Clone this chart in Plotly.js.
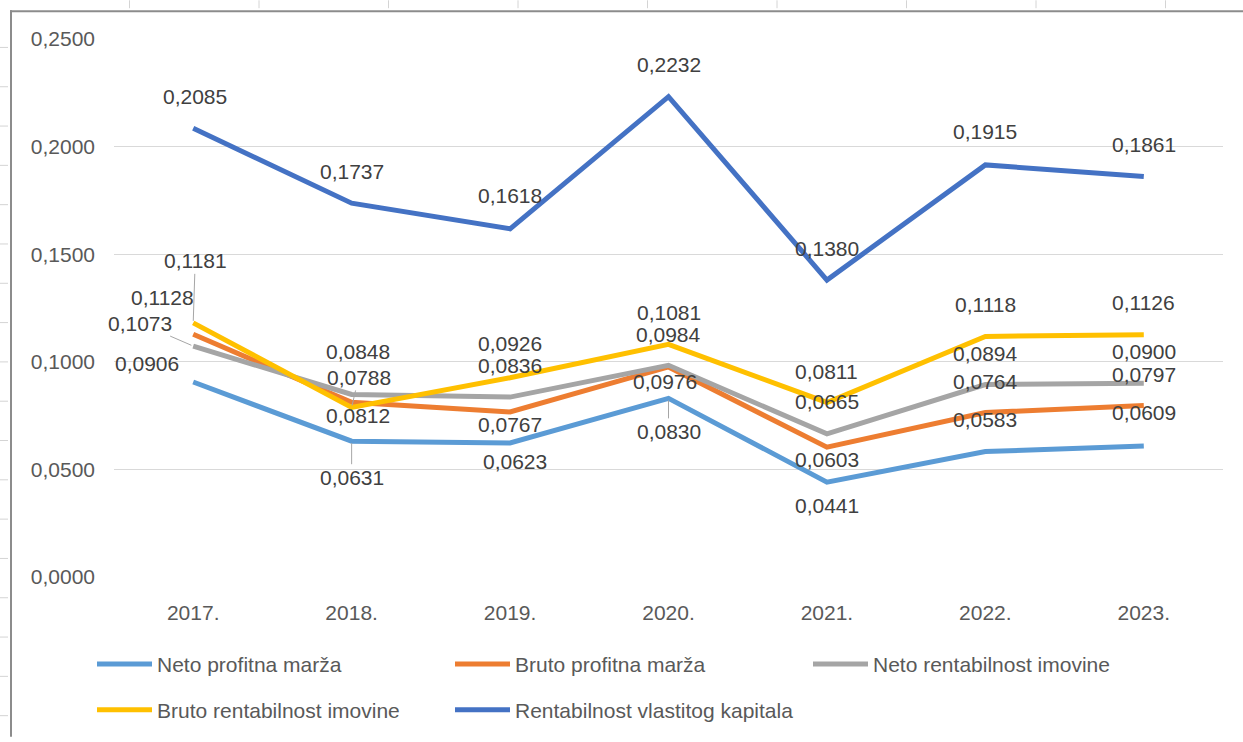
<!DOCTYPE html>
<html>
<head>
<meta charset="utf-8">
<script src="https://cdn.plot.ly/plotly-3.0.1.min.js"></script>
<style>html,body{margin:0;padding:0;background:#fff;}#chart{width:1243px;height:742px;}</style>
</head>
<body>
<div id="chart"></div>
<script>
// ---- data ----
const years = ['2017.', '2018.', '2019.', '2020.', '2021.', '2022.', '2023.'];
const netoProfitnaMarza = [0.0906, 0.0631, 0.0623, 0.0830, 0.0441, 0.0583, 0.0609];
const brutoProfitnaMarza = [0.1128, 0.0812, 0.0767, 0.0976, 0.0603, 0.0764, 0.0797];
const netoRentabilnostImovine = [0.1073, 0.0848, 0.0836, 0.0984, 0.0665, 0.0894, 0.0900];
const brutoRentabilnostImovine = [0.1181, 0.0788, 0.0926, 0.1081, 0.0811, 0.1118, 0.1126];
const rentabilnostKapitala = [0.2085, 0.1737, 0.1618, 0.2232, 0.1380, 0.1915, 0.1861];
const seriesNames = ['Neto profitna marža', 'Bruto profitna marža', 'Neto rentabilnost imovine',
                     'Bruto rentabilnost imovine', 'Rentabilnost vlastitog kapitala'];
const yTicks = [0, 0.05, 0.10, 0.15, 0.20, 0.25];

// ---- styling (not data) ----
const colors = ['#5B9BD5', '#ED7D31', '#A5A5A5', '#FFC000', '#4472C4'];
// data-label pixel offsets [dx, dy] (screen, down positive), as placed in the original
const labelOffsets = [
  [[-46,-19],[0,36],[5,19],[0,33],[0,23],[0,-32],[0,-33]],
  [[-31,-37],[6,13],[0,13],[-4,15],[0,12],[0,-31],[0,-31]],
  [[-53,-23],[6,-43],[0,-32],[0,-31],[0,-32],[0,-31],[0,-32]],
  [[2,-62],[7,-30],[0,-34],[0,-32],[0,-31],[0,-32],[0,-32]],
  [[2,-32],[0,-32],[0,-33],[0,-32],[0,-32],[0,-33],[0,-32]]
];
// labels that show a leader line: [series, point]
const leaders = [[3,0],[2,0],[0,1],[0,3],[3,1]];

const allSeries = [netoProfitnaMarza, brutoProfitnaMarza, netoRentabilnostImovine,
                   brutoRentabilnostImovine, rentabilnostKapitala];
const xIdx = years.map((_, i) => i);   // category positions on the x axis

const W = 1243, H = 742;
const M = {l: 114, r: 20, t: 39, b: 161};
const PW = W - M.l - M.r, PH = H - M.t - M.b;
const px2x = p => (p - M.l) / PW;
const px2y = p => (H - M.b - p) / PH;

const FONT = 'Liberation Sans, Arial, sans-serif';
const fmt = v => v.toFixed(4).replace('.', ',');

const traces = allSeries.map((vals, s) => ({
  type: 'scatter', mode: 'lines', x: xIdx, y: vals, name: seriesNames[s],
  line: {color: colors[s], width: 5},
  legend: s < 3 ? 'legend' : 'legend2',
  hoverinfo: 'skip'
}));

const annotations = [];
allSeries.forEach((vals, s) => {
  vals.forEach((v, i) => {
    const [dx, dy] = labelOffsets[s][i];
    const lead = leaders.some(([a, b]) => a === s && b === i);
    const a = {x: xIdx[i], y: v, xref: 'x', yref: 'y', text: fmt(v),
      font: {family: FONT, size: 21, color: '#404040'}};
    if (lead) {
      Object.assign(a, {showarrow: true, ax: dx, ay: dy, arrowhead: 0, arrowwidth: 1,
        arrowcolor: '#a6a6a6', standoff: 2});
    } else {
      Object.assign(a, {showarrow: false, xanchor: 'center', yanchor: 'middle',
        xshift: dx, yshift: -dy});
    }
    annotations.push(a);
  });
});

// sheet frame & spreadsheet grid marks around the chart object
const shapes = [];
shapes.push({type: 'line', xref: 'paper', yref: 'paper', x0: px2x(10), x1: px2x(1243),
  y0: px2y(11), y1: px2y(11), line: {color: '#8c8c8c', width: 2}});
shapes.push({type: 'line', xref: 'paper', yref: 'paper', x0: px2x(11), x1: px2x(11),
  y0: px2y(10), y1: px2y(742), line: {color: '#8c8c8c', width: 2}});
for (let k = 1; k <= 9; k++) {
  const xx = 129.5 * k;
  shapes.push({type: 'line', xref: 'paper', yref: 'paper', x0: px2x(xx), x1: px2x(xx),
    y0: px2y(0), y1: px2y(8), line: {color: '#d4d4d4', width: 1}});
}
for (let k = 0; k < 18; k++) {
  const yy = 47.5 + 39.6 * k;
  shapes.push({type: 'line', xref: 'paper', yref: 'paper', x0: px2x(0), x1: px2x(8),
    y0: px2y(yy), y1: px2y(yy), line: {color: '#d4d4d4', width: 1}});
}

const legendBase = {
  orientation: 'h', entrywidth: 288, entrywidthmode: 'pixels', itemwidth: 55,
  font: {family: FONT, size: 21, color: '#595959'}, bgcolor: 'rgba(0,0,0,0)',
  xanchor: 'left', yanchor: 'middle', x: px2x(92)
};

const layout = {
  width: W, height: H, margin: M,
  paper_bgcolor: '#ffffff', plot_bgcolor: '#ffffff',
  separators: ',.',
  showlegend: true,
  font: {family: FONT, size: 21, color: '#595959'},
  xaxis: {range: [-0.5, 6.5], tickvals: xIdx, ticktext: years, showgrid: false,
    zeroline: false, showline: false, ticks: '', ticklabelstandoff: 21,
    tickfont: {family: FONT, size: 21, color: '#595959'}},
  yaxis: {range: [0, 0.25], tickvals: yTicks, tickformat: '.4f', showgrid: true,
    gridcolor: '#d9d9d9', gridwidth: 1, zeroline: false, showline: false, ticks: '',
    ticklabelstandoff: 18, tickfont: {family: FONT, size: 21, color: '#595959'}},
  legend: Object.assign({}, legendBase, {y: px2y(669)}),
  legend2: Object.assign({}, legendBase, {y: px2y(715)}),
  annotations: annotations,
  shapes: shapes,
  hovermode: false
};

Plotly.newPlot('chart', traces, layout, {staticPlot: true, displayModeBar: false});
</script>
</body>
</html>
